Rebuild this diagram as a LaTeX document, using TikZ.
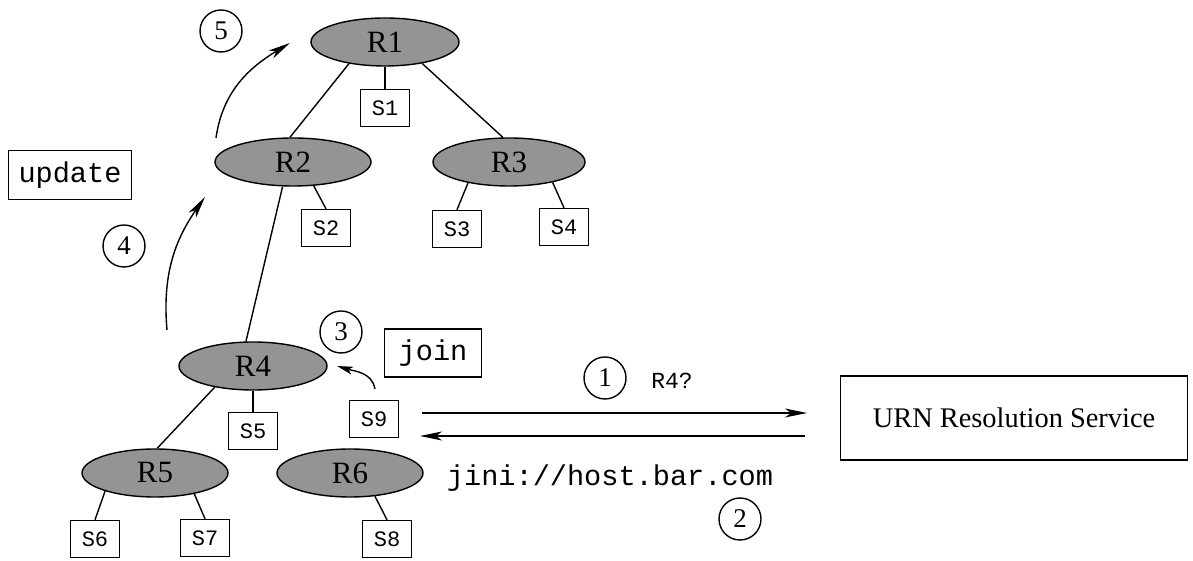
\documentclass[tikz,border=0pt]{standalone}
\usepackage{fontspec}
\setmainfont{Liberation Serif}
\setmonofont{Liberation Mono}
\usetikzlibrary{arrows.meta}
\usetikzlibrary{shapes.geometric}

\tikzset{
    router/.style={ellipse, draw, fill=black!42, minimum width=74pt, minimum height=24pt,
        inner sep=0pt, font=\fontsize{15.5}{18}\selectfont},
    srv/.style={draw, minimum width=24.5pt, minimum height=18.5pt, inner sep=0pt,
        font=\ttfamily\fontsize{11}{12}\selectfont},
    stepnum/.style={circle, draw, minimum size=21pt, inner sep=0pt,
        font=\fontsize{13.5}{16}\selectfont},
    msgbox/.style={draw, minimum height=24pt, inner sep=0pt,
        font=\ttfamily\fontsize{14.3}{16}\selectfont},
    arr/.style={-{Stealth[length=11pt,width=4.5pt,inset=3pt]}},
}

\begin{document}
\begin{tikzpicture}[x=0.5pt, y=0.5pt, line width=0.7pt]
        \useasboundingbox (0,0) rectangle (1193,561);
        % 路由节点
        \node [router] (R1) at (385,519) {R1};
        \node [router, minimum width=78pt] (R2) at (293,399) {R2};
        \node [router, minimum width=76pt] (R3) at (509,399) {R3};
        \node [router] (R4) at (253,195) {R4};
        \node [router, minimum width=73pt] (R5) at (155,88) {R5};
        \node [router, minimum width=73pt] (R6) at (350,88) {R6};
        % 服务节点
        \node [srv] (S1) at (385,453) {S1};
        \node [srv] (S2) at (326,333) {S2};
        \node [srv] (S3) at (457,332) {S3};
        \node [srv] (S4) at (564,334) {S4};
        \node [srv] (S5) at (253,130) {S5};
        \node [srv] (S6) at (95,22) {S6};
        \node [srv] (S7) at (205,23) {S7};
        \node [srv] (S8) at (387,22) {S8};
        \node [srv] (S9) at (374,142) {S9};
        % 树的连线
        \draw (R1.211) -- (R2.97);
        \draw (R1.330) -- (R3.104);
        \draw (R1.south) -- (S1.north);
        \draw (R2.311) -- (S2.north);
        \draw (R2.247) -- (R4.106);
        \draw (R3.207) -- (S3.north);
        \draw (R3.335) -- (S4.north);
        \draw (R4.209) -- (R5.85);
        \draw (R4.south) -- (S5.north);
        \draw (R5.200) -- (S6.north);
        \draw (R5.332) -- (S7.north);
        \draw (R6.317) -- (S8.north);

        % 解析服务及消息
        \node [draw, minimum width=173.5pt, minimum height=42pt,
            font=\fontsize{14.2}{17}\selectfont] (URN) at (1014,143) {URN Resolution Service};
        \coordinate (q1) at (422,148);
        \coordinate (q2) at (807,148);
        \coordinate (a1) at (805,125);
        \coordinate (a2) at (420,125);
        \draw [arr] (q1) -- (q2);
        \draw [arr] (a1) -- (a2);
        \node [stepnum] (c1) at (605,183) {1};
        \node [font=\ttfamily\fontsize{11.5}{13}\selectfont] (ask) at (672,180) {R4?};
        \node [font=\ttfamily\fontsize{14.3}{16}\selectfont] (reply) at (610,83) {jini://host.bar.com};
        \node [stepnum] (c2) at (740,42) {2};

        % join
        \node [stepnum] (c3) at (341,229) {3};
        \node [msgbox, minimum width=48.5pt] (join) at (433,208) {join};
        \coordinate (j1) at (375,172);
        \coordinate (j2) at (337,195);
        \draw [-{Stealth[length=8pt,width=4pt,inset=2pt]}] (j1) to[out=100, in=-17] (j2);

        % update
        \node [msgbox, minimum width=61.5pt, minimum height=24.5pt] (update) at (70,386) {update};
        \node [stepnum] (c4) at (124,315) {4};
        \node [stepnum] (c5) at (221,530) {5};
        \coordinate (u1) at (167,231);
        \coordinate (u2) at (205,364);
        \coordinate (u3) at (216,423);
        \coordinate (u4) at (290,518);
        \draw [arr] (u1) to[out=95, in=235] (u2);
        \draw [arr] (u3) to[out=82, in=211] (u4);
\end{tikzpicture}
\end{document}
